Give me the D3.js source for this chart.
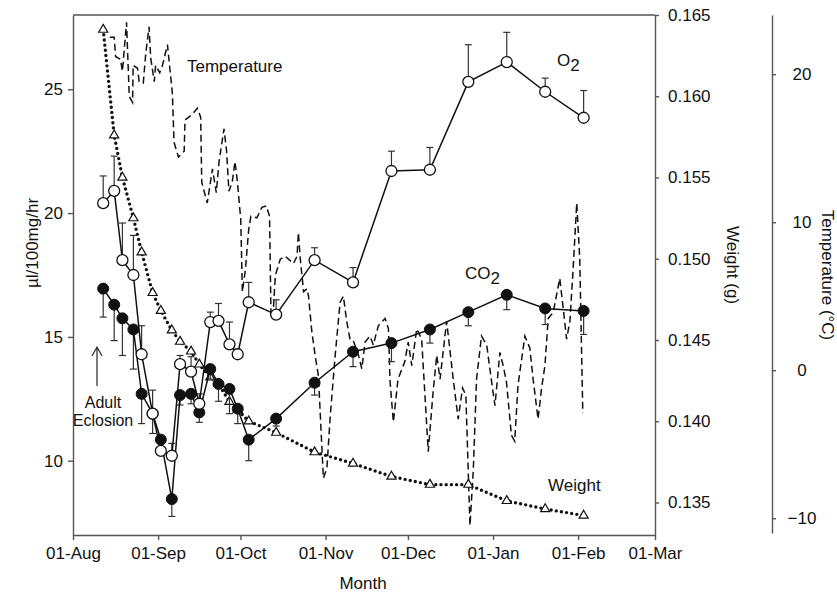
<!DOCTYPE html>
<html>
<head>
<meta charset="utf-8">
<script src="https://cdn.jsdelivr.net/npm/d3@7"></script>
<style>
body { margin: 0; background: #fff; }
svg text { font-family: "Liberation Sans", Arial, sans-serif; fill: #111; }
</style>
</head>
<body>
<svg id="chart" width="837" height="600"></svg>
<script>
// sampling dates for respiration and weight
var sampleDates = ["2006-08-12", "2006-08-16", "2006-08-19", "2006-08-23", "2006-08-26", "2006-08-30",
	"2006-09-02", "2006-09-06", "2006-09-09", "2006-09-13", "2006-09-16", "2006-09-20", "2006-09-23",
	"2006-09-27", "2006-09-30", "2006-10-04", "2006-10-14", "2006-10-28", "2006-11-11", "2006-11-25",
	"2006-12-09", "2006-12-23", "2007-01-06", "2007-01-20", "2007-02-03"];

var o2 = [20.4, 20.9, 18.1, 17.5, 14.3, 11.9, 10.4, 10.2, 13.9, 13.6, 12.3, 15.6, 15.65, 14.7, 14.3,
	16.4, 15.9, 18.1, 17.2, 21.7, 21.75, 25.3, 26.1, 24.9, 23.85];
var o2Err = [1.1, 1.4, 1.5, 1.6, 1.15, 0.95, 0.3, 0.5, 0.35, 0.6, 0.4, 0.4, 0.7, 0.9, 0.2,
	0.8, 0.6, 0.5, 0.6, 0.8, 0.9, 1.5, 1.2, 0.55, 1.1];

var co2 = [16.95, 16.3, 15.75, 15.3, 12.7, 11.9, 10.85, 8.45, 12.65, 12.7, 11.95, 13.7, 13.1, 12.9, 12.1,
	10.85, 11.7, 13.15, 14.4, 14.75, 15.3, 16.0, 16.7, 16.15, 16.05];
var co2Err = [1.15, 1.45, 1.5, 1.6, 1.2, 0.8, 0.6, 0.7, 0.4, 0.4, 0.4, 0.4, 0.7, 1.0, 0.6,
	0.85, 0.3, 0.5, 0.6, 0.75, 0.55, 0.55, 0.6, 0.65, 0.95];

var weight = [0.1641, 0.1576, 0.1550, 0.1525, 0.1504, 0.1479, 0.1468, 0.1456, 0.1449, 0.1443, 0.1435,
	0.1427, 0.1423, 0.1412, 0.1407, 0.1400, 0.1393, 0.1381, 0.1374, 0.1366, 0.1361, 0.1361, 0.1351,
	0.1346, 0.1342];

// temperature trace: days after 01-Aug and degrees C
var tempDays = [13.4, 15, 15.5, 17.3, 18, 19.5, 20.5, 21.7, 21.9, 23.5, 24.1, 25.6, 26.5, 27.7, 28.3,
	29.6, 30.1, 31.6, 32.6, 34.4, 36.2, 36.8, 38.4, 40.5, 40.8, 43.5, 45.3, 46.5, 46.9, 48.9, 50.8,
	52.2, 53.2, 55, 55.9, 56.8, 58, 59, 59.9, 61.1, 61.7, 62.8, 64, 64.8, 67, 68.8, 70.4, 71.6, 72.1,
	72.8, 73.7, 75.5, 77.3, 80.3, 81.6, 82.1, 82.8, 83.4, 84, 85.2, 85.8, 87, 88.2, 89.4, 91.2, 92.5,
	93.7, 95.5, 97.3, 98.5, 99.7, 100.9, 102.1, 104, 105.2, 106.4, 108.2, 109.4, 111.2, 113.7, 114.9,
	115.5, 116.7, 118.4, 120.9, 122.1, 123.4, 125.2, 127, 129.4, 131.2, 132.5, 133.7, 136.1, 138.5,
	140.3, 141.9, 143.1, 144.6, 145.8, 147, 148.8, 150.7, 152.5, 153.7, 155.5, 156.7, 157.9, 159.7,
	160.9, 162.1, 164.6, 166.4, 167.6, 169.4, 170.7, 171.9, 173.1, 174.9, 177.3, 178.5, 179.8, 181,
	182.1, 183.5, 184.6, 185.7];
var tempValues = [22.5, 22.5, 21.2, 21.0, 20.2, 23.5, 18.5, 18.1, 20.6, 20.4, 19.5, 19.4, 21.4, 23.2, 21.1,
	19.5, 20.6, 20.1, 20.6, 22.0, 18.7, 15.4, 14.4, 14.8, 16.9, 17.3, 17.7, 17.1, 12.7, 11.3, 13.6,
	12.0, 14.1, 16.3, 14.9, 12.1, 12.7, 14.1, 12.7, 10.2, 5.3, 6.8, 9.5, 10.4, 10.3, 11.0, 11.1, 10.4, 3.9,
	3.5, 6.4, 7.5, 7.7, 7.2, 7.7, 9.3, 7.5, 6.4, 5.3, 5.5, 5.0, 2.6, 1.0, -0.4, -7.3, -6.6,
	-3.1, 1.0, 4.6, 5.0, 3.3, 2.1, 2.0, 1.0, 0.1, 1.9, 2.3, 1.7, 3.0, 3.5, 2.8,
	-0.8, -3.5, -0.6, 0.6, 1.9, 0.3, 2.8, 2.1, -5.5, -1.4, 1.0, -0.6, 3.3, -0.6,
	-3.3, -1.2, -1.7, -10.5, -6.8, -0.6, 2.3, 1.7, -0.8, -2.4, 1.2, 0.3, -0.8, -4.4,
	-4.8, -1.0, 2.3, 1.5, -0.6, -3.3, -1.2, 0.3, 3.5, 3.9, 6.2, 4.3, 2.1, 3.3,
	6.6, 11.3, 7.5, -2.9];

var leftTicks = [10, 15, 20, 25];
var weightTicks = [0.135, 0.140, 0.145, 0.150, 0.155, 0.160, 0.165];
var tempTicks = [-10, 0, 10, 20];

(function(){
	var parse = d3.timeParse("%Y-%m-%d");
	var start = parse("2006-08-01"), end = parse("2007-03-01");
	var dates = sampleDates.map(parse);

	var rows = dates.map(function(d, i){
		return {date: d, o2: o2[i], o2e: o2Err[i], co2: co2[i], co2e: co2Err[i], w: weight[i]};
	});
	var temps = tempDays.map(function(d, i){
		return {date: new Date(start.getTime() + d * 864e5), v: tempValues[i]};
	});

	var svg = d3.select("#chart");
	svg.append("rect").attr("width", 837).attr("height", 600).attr("fill", "#fff");

	var plotLeft = 73, plotRight = 655, plotTop = 15, plotBottom = 535;

	var x = d3.scaleTime().domain([start, end]).range([plotLeft, plotRight]);
	var y = d3.scaleLinear().domain([7, 28]).range([plotBottom, plotTop]);
	var yW = d3.scaleLinear().domain([0.133, 0.165]).range([plotBottom, plotTop]);
	var yT = d3.scaleLinear().domain([-11, 24]).range([533, plotTop]);

	var axisColor = "#555";

	function styleAxis(g){
		g.selectAll(".domain, .tick line").attr("stroke", axisColor).attr("stroke-width", 1.4);
		g.selectAll("text").attr("font-size", 17).attr("fill", "#111")
			.attr("font-family", "Liberation Sans, Arial, sans-serif");
	}

	// axes
	svg.append("g").attr("transform", "translate(" + plotLeft + ",0)")
		.call(d3.axisLeft(y).tickValues(leftTicks).tickSize(5).tickSizeOuter(0).tickPadding(5))
		.call(styleAxis);

	svg.append("g").attr("transform", "translate(0," + plotBottom + ")")
		.call(d3.axisBottom(x).ticks(d3.timeMonth.every(1)).tickFormat(d3.timeFormat("%d-%b"))
			.tickSize(5).tickSizeOuter(0).tickPadding(7))
		.call(styleAxis);

	svg.append("line").attr("x1", plotLeft).attr("x2", plotRight).attr("y1", plotTop).attr("y2", plotTop)
		.attr("stroke", axisColor).attr("stroke-width", 1.4);

	svg.append("g").attr("transform", "translate(" + plotRight + ",0)")
		.call(d3.axisRight(yW).tickValues(weightTicks).tickFormat(d3.format(".3f"))
			.tickSize(4).tickSizeOuter(0).tickPadding(9))
		.call(styleAxis);

	var tAxis = svg.append("g").attr("transform", "translate(772,0)")
		.call(d3.axisRight(yT).tickValues(tempTicks).tickSize(4).tickSizeOuter(0).tickPadding(26))
		.call(styleAxis);
	tAxis.selectAll("text").attr("text-anchor", "middle");

	// axis titles
	svg.append("text").attr("x", 363).attr("y", 589).attr("text-anchor", "middle")
		.attr("font-size", 17).text("Month");
	svg.append("text").attr("transform", "translate(38,243) rotate(-90)").attr("text-anchor", "middle")
		.attr("font-size", 17).text("µl/100mg/hr");
	svg.append("text").attr("transform", "translate(727,265) rotate(90)").attr("text-anchor", "middle")
		.attr("font-size", 17).text("Weight (g)");
	svg.append("text").attr("transform", "translate(822,275) rotate(90)").attr("text-anchor", "middle")
		.attr("font-size", 17).text("Temperature (°C)");

	// temperature
	var tempLine = d3.line().x(function(d){return x(d.date);}).y(function(d){return yT(d.v);});
	svg.append("path").datum(temps).attr("d", tempLine)
		.attr("fill", "none").attr("stroke", "#111").attr("stroke-width", 1.5)
		.attr("stroke-dasharray", "7,4");

	// weight
	var wLine = d3.line().x(function(d){return x(d.date);}).y(function(d){return yW(d.w);});
	svg.append("path").datum(rows).attr("d", wLine)
		.attr("fill", "none").attr("stroke", "#111").attr("stroke-width", 3.4)
		.attr("stroke-linecap", "round").attr("stroke-dasharray", "0,5.2");
	svg.selectAll("path.tri").data(rows).enter().append("path").attr("class", "tri")
		.attr("d", d3.symbol(d3.symbolTriangle, 36))
		.attr("transform", function(d){return "translate(" + x(d.date) + "," + yW(d.w) + ")";})
		.attr("fill", "#fff").attr("stroke", "#111").attr("stroke-width", 1.2);

	// error bars
	function errBars(cls, val, err, dir){
		var g = svg.append("g").attr("class", cls).attr("stroke", "#333").attr("stroke-width", 1.2);
		g.selectAll("line.bar").data(rows).enter().append("line").attr("class", "bar")
			.attr("x1", function(d){return x(d.date);}).attr("x2", function(d){return x(d.date);})
			.attr("y1", function(d){return y(d[val]);})
			.attr("y2", function(d){return y(d[val] + dir * d[err]);});
		g.selectAll("line.cap").data(rows).enter().append("line").attr("class", "cap")
			.attr("x1", function(d){return x(d.date) - 3.5;}).attr("x2", function(d){return x(d.date) + 3.5;})
			.attr("y1", function(d){return y(d[val] + dir * d[err]);})
			.attr("y2", function(d){return y(d[val] + dir * d[err]);});
	}
	errBars("co2err", "co2", "co2e", -1);
	errBars("o2err", "o2", "o2e", 1);

	// CO2
	var co2Line = d3.line().x(function(d){return x(d.date);}).y(function(d){return y(d.co2);});
	svg.append("path").datum(rows).attr("d", co2Line)
		.attr("fill", "none").attr("stroke", "#111").attr("stroke-width", 1.5);
	svg.selectAll("circle.co2").data(rows).enter().append("circle").attr("class", "co2")
		.attr("cx", function(d){return x(d.date);}).attr("cy", function(d){return y(d.co2);})
		.attr("r", 5.5).attr("fill", "#111").attr("stroke", "#111");

	// O2
	var o2Line = d3.line().x(function(d){return x(d.date);}).y(function(d){return y(d.o2);});
	svg.append("path").datum(rows).attr("d", o2Line)
		.attr("fill", "none").attr("stroke", "#111").attr("stroke-width", 1.5);
	svg.selectAll("circle.o2").data(rows).enter().append("circle").attr("class", "o2")
		.attr("cx", function(d){return x(d.date);}).attr("cy", function(d){return y(d.o2);})
		.attr("r", 5.5).attr("fill", "#fff").attr("stroke", "#111").attr("stroke-width", 1.3);

	// labels
	svg.append("text").attr("x", 187).attr("y", 72).attr("font-size", 17).text("Temperature");
	var o2Label = svg.append("text").attr("x", 557).attr("y", 66).attr("font-size", 17);
	o2Label.append("tspan").text("O");
	o2Label.append("tspan").attr("dy", 5).text("2");
	var co2Label = svg.append("text").attr("x", 465).attr("y", 279).attr("font-size", 17);
	co2Label.append("tspan").text("CO");
	co2Label.append("tspan").attr("dy", 5).text("2");
	svg.append("text").attr("x", 548).attr("y", 491).attr("font-size", 17).text("Weight");
	svg.append("text").attr("x", 103).attr("y", 408).attr("text-anchor", "middle").attr("font-size", 16).text("Adult");
	svg.append("text").attr("x", 103).attr("y", 426).attr("text-anchor", "middle").attr("font-size", 16).text("Eclosion");
	svg.append("path").attr("d", "M97,386 L97,347 M92,356 L97,347 L102,356")
		.attr("fill", "none").attr("stroke", "#333").attr("stroke-width", 1.3);
})();
</script>
</body>
</html>
